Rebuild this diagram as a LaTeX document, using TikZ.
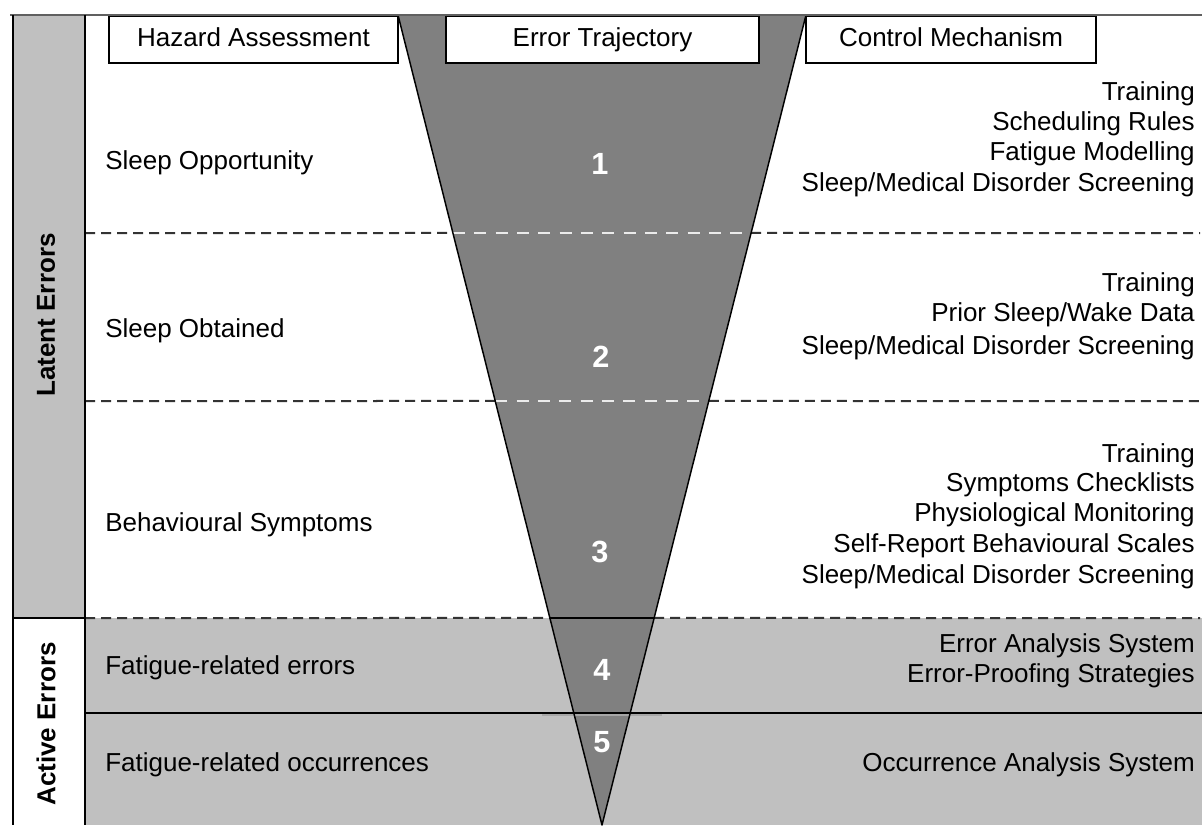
\documentclass[tikz,border=0pt]{standalone}
\usepackage{fontspec}
\setmainfont{Liberation Sans}
\definecolor{bandgray}{HTML}{C0C0C0}
\definecolor{funnelgray}{HTML}{808080}
\definecolor{rulegray}{HTML}{606060}
\begin{document}
\begin{tikzpicture}[x=0.75pt,y=-0.75pt,
  lbl/.style={font=\fontsize{19.5}{22.5}\selectfont, inner sep=0pt},
  hazard/.style={lbl, anchor=base west},
  ctrl/.style={lbl, anchor=base east},
  num/.style={font=\fontsize{23}{26}\selectfont\bfseries, text=white, inner sep=0pt},
  side/.style={font=\fontsize{19.5}{22.5}\selectfont\bfseries, rotate=90, inner sep=0pt},
  head/.style={lbl, draw=black, fill=white, line width=1.1pt,
    text height=14pt, text depth=4pt},
  blackdash/.style={draw=black!80, line width=1.5pt, dash pattern=on 7.5pt off 4.5pt},
  whitedash/.style={draw=white!92!black, line width=1.5pt, dash pattern=on 9pt off 7pt},
  rule/.style={draw=black, line width=1.1pt}
]
\useasboundingbox (0,0) rectangle (1202,825);

% frame corners and funnel corners
\coordinate (tl) at (398,15);
\coordinate (tr) at (806,15);
\coordinate (apex) at (602,825);

% active errors band
\fill[bandgray] (85,618) rectangle (1202,825);
% latent errors side panel
\fill[bandgray] (13,15) rectangle (85,618);

% error funnel
\fill[funnelgray] (tl) -- (tr) -- (apex) -- cycle;

% level separators
\coordinate (d1w) at (85,233);  \coordinate (d1e) at (1200,233);
\coordinate (d2w) at (85,401);  \coordinate (d2e) at (1200,401);
\coordinate (d3w) at (85,618);  \coordinate (d3e) at (1200,618);
\coordinate (s4w) at (85,713);  \coordinate (s4e) at (1202,713);
\coordinate (d1l) at (intersection of tl--apex and d1w--d1e);
\coordinate (d1r) at (intersection of tr--apex and d1w--d1e);
\coordinate (d2l) at (intersection of tl--apex and d2w--d2e);
\coordinate (d2r) at (intersection of tr--apex and d2w--d2e);
\coordinate (d3l) at (intersection of tl--apex and d3w--d3e);
\coordinate (d3r) at (intersection of tr--apex and d3w--d3e);

\draw[blackdash] (d1w) -- (d1l);
\draw[whitedash] (d1l) -- (d1r);
\draw[blackdash] (d1r) -- (d1e);
\draw[blackdash] (d2w) -- (d2l);
\draw[whitedash] (d2l) -- (d2r);
\draw[blackdash] (d2r) -- (d2e);
\draw[blackdash] (d3w) -- (d3l);
\draw[rule] (d3l) -- (d3r);
\draw[blackdash] (d3r) -- (d3e);

% boundary between errors and occurrences
\coordinate (g4w) at (542,714.5);
\coordinate (g4e) at (662,714.5);
\draw[draw=black!35, line width=1.5pt] (g4w) -- (g4e);
\draw[rule] (s4w) -- (s4e);

% funnel outline
\draw[draw=black, line width=1.1pt, line join=round] (tl) -- (apex) -- (tr);

% column headings
\node[head, minimum width=216.75pt, minimum height=35.25pt] (hz) at (253.5,39.5) {Hazard Assessment};
\node[head, minimum width=234.75pt, minimum height=35.25pt] (et) at (602.5,39.5) {Error Trajectory};
\node[head, minimum width=217.5pt, minimum height=35.25pt] (cm) at (951,39.5) {Control Mechanism};

% outer frame
\coordinate (ftl) at (10,15);
\coordinate (ftr) at (1202,15);
\coordinate (fbl) at (13,825);
\coordinate (ftl2) at (13,15);
\coordinate (sct) at (85,15);
\coordinate (scb) at (85,825);
\coordinate (sml) at (13,618);
\coordinate (smr) at (85,618);
\draw[draw=rulegray, line width=1pt] (ftl) -- (ftr);
\draw[draw=black, line width=2pt] (ftl2) -- (fbl);
\draw[rule] (sct) -- (scb);
\draw[rule] (sml) -- (smr);

% side labels
\node[side] (latent) at (46,315) {Latent Errors};
\node[side] (active) at (46,724) {Active Errors};

% hazard levels
\node[hazard] (h1) at (105,169.5) {Sleep Opportunity};
\node[hazard] (h2) at (105,337.5) {Sleep Obtained};
\node[hazard] (h3) at (105,531.5) {Behavioural Symptoms};
\node[hazard] (h4) at (105,674.5) {Fatigue-related errors};
\node[hazard] (h5) at (105,771.5) {Fatigue-related occurrences};

% trajectory stages
\node[num] (n1) at (600,164) {1};
\node[num] (n2) at (601,357) {2};
\node[num] (n3) at (600,552) {3};
\node[num] (n4) at (602,670) {4};
\node[num] (n5) at (602,742) {5};

% control mechanisms
\node[ctrl] (c1a) at (1195,100) {Training};
\node[ctrl] (c1b) at (1195,130) {Scheduling Rules};
\node[ctrl] (c1c) at (1195,160) {Fatigue Modelling};
\node[ctrl] (c1d) at (1195,191) {Sleep/Medical Disorder Screening};

\node[ctrl] (c2a) at (1195,291) {Training};
\node[ctrl] (c2b) at (1195,321) {Prior Sleep/Wake Data};
\node[ctrl] (c2c) at (1195,354) {Sleep/Medical Disorder Screening};

\node[ctrl] (c3a) at (1195,462) {Training};
\node[ctrl] (c3b) at (1195,491.5) {Symptoms Checklists};
\node[ctrl] (c3c) at (1195,521.5) {Physiological Monitoring};
\node[ctrl] (c3d) at (1195,552.5) {Self-Report Behavioural Scales};
\node[ctrl] (c3e) at (1195,583) {Sleep/Medical Disorder Screening};

\node[ctrl] (c4a) at (1195,652.5) {Error Analysis System};
\node[ctrl] (c4b) at (1195,682.5) {Error-Proofing Strategies};

\node[ctrl] (c5a) at (1195,771.5) {Occurrence Analysis System};
\end{tikzpicture}
\end{document}
